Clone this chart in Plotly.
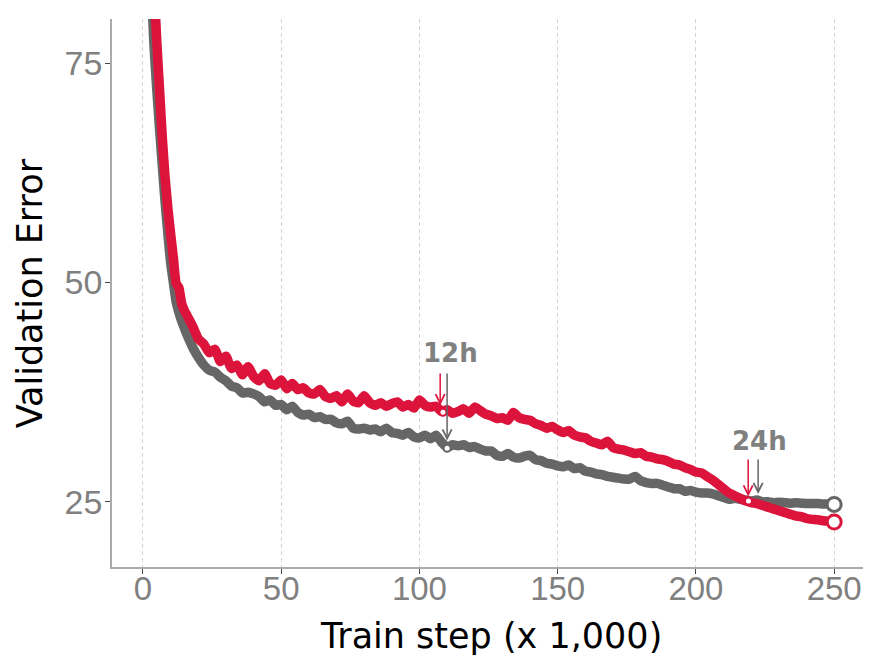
import plotly.graph_objects as go

# ---- data ----
steps = list(range(1, 16)) + list(range(16, 251, 2))

red_err = [120, 104, 92, 84, 77.5, 72, 66.5, 62, 58.5, 55.6, 52.8, 49.9, 49.4, 47.6, 46.8,
           46.2, 45.0, 43.6, 43.0, 42.0, 42.4, 41.0, 41.6, 40.2, 40.6,
           39.5, 40.4, 39.3, 38.8, 39.6, 38.5, 38.3, 38.9, 37.9, 38.5,
           37.8, 38.0, 37.4, 37.3, 37.8, 37.0, 36.8, 37.1, 36.4, 37.3,
           36.5, 36.3, 37.1, 36.3, 36.0, 36.3, 35.9, 36.2, 36.4, 35.8,
           36.1, 35.7, 36.6, 36.0, 35.8, 35.9, 35.3, 35.5, 35.1, 35.3,
           35.6, 35.1, 35.8, 35.4, 35.0, 34.8, 34.5, 34.6, 34.3, 35.2,
           34.6, 34.4, 34.3, 33.9, 33.7, 33.4, 33.6, 33.2, 32.9, 33.1,
           32.6, 32.4, 32.3, 31.9, 31.7, 31.5, 31.9, 31.2, 31.0, 30.9,
           30.7, 30.5, 30.6, 30.2, 30.1, 29.9, 29.8, 29.6, 29.3, 29.2,
           28.9, 28.7, 28.4, 28.3, 27.9, 27.5, 27.0, 26.5, 26.0, 25.7,
           25.4, 25.1, 24.9, 24.8, 24.6, 24.4, 24.2, 24.0, 23.8, 23.6,
           23.4, 23.3, 23.1, 23.0, 22.95, 22.85, 22.8, 22.7]

gray_err = [108, 94, 84, 77, 72, 67.5, 63.3, 59.2, 55.6, 52.3, 50.0, 47.8, 46.6, 45.6, 44.8,
            44.0, 42.6, 41.5, 40.6, 40.0, 39.8, 39.2, 38.8, 38.2, 38.0,
            37.4, 37.5, 37.3, 37.0, 36.4, 36.6, 36.0, 36.1, 35.5, 35.9,
            35.2, 34.9, 35.0, 34.6, 34.7, 34.4, 34.4, 34.0, 33.9, 34.2,
            33.4, 33.3, 33.4, 33.2, 33.3, 33.0, 33.4, 32.9, 32.8, 32.6,
            32.9, 32.4, 32.3, 32.6, 32.2, 32.6, 31.8, 31.2, 31.5, 31.4,
            31.5, 31.2, 31.3, 31.0, 30.8, 30.8, 30.3, 30.2, 30.5, 30.1,
            30.0, 30.2, 30.3, 29.8, 29.7, 29.4, 29.3, 29.1, 29.0, 29.2,
            28.8, 28.9, 28.5, 28.4, 28.2, 28.1, 27.9, 27.8, 27.7, 27.6,
            27.6, 27.9, 27.4, 27.2, 27.1, 27.1, 26.9, 26.7, 26.5, 26.5,
            26.2, 26.3, 26.1, 26.0, 26.0, 25.9, 25.7, 25.5, 25.3, 25.4,
            25.3, 25.2, 25.1, 25.2, 25.0, 25.0, 24.9, 24.95, 24.9, 24.85,
            24.9, 24.85, 24.8, 24.8, 24.8, 24.75, 24.75, 24.7]

# time checkpoints
red_event_x = [108.5, 219.0]
red_event_y = [35.2, 25.1]
gray_event_x = [110.0]
gray_event_y = [31.1]

event_labels = ["12h", "24h"]
label_x = [111.4, 222.9]
label_y = [42.0, 31.9]
arrow_red_x = [107.5, 218.9]
arrow_red_tip = [36.0, 25.6]
arrow_gray_x = [110.0, 222.5]
arrow_gray_tip = [32.0, 25.9]
arrow_tail = [39.8, 30.0]

x_ticks = [0, 50, 100, 150, 200, 250]
y_ticks = [25, 50, 75]

RED = "#DC143C"
GRAY = "#666666"
TXT = "#808080"

fig = go.Figure()
fig.add_trace(go.Scatter(x=steps, y=gray_err, mode="lines",
                         line=dict(color=GRAY, width=9.5, shape="spline", smoothing=0.5),
                         showlegend=False))
fig.add_trace(go.Scatter(x=steps, y=red_err, mode="lines",
                         line=dict(color=RED, width=9.5, shape="spline", smoothing=0.5),
                         showlegend=False))

# small event markers
fig.add_trace(go.Scatter(x=gray_event_x, y=gray_event_y, mode="markers",
                         marker=dict(size=7, color="white", line=dict(color=GRAY, width=2)),
                         showlegend=False))
fig.add_trace(go.Scatter(x=red_event_x, y=red_event_y, mode="markers",
                         marker=dict(size=7, color="white", line=dict(color=RED, width=2)),
                         showlegend=False))

# end markers
fig.add_trace(go.Scatter(x=[steps[-1]], y=[gray_err[-1]], mode="markers",
                         marker=dict(size=14, color="white", line=dict(color=GRAY, width=3)),
                         showlegend=False, cliponaxis=False))
fig.add_trace(go.Scatter(x=[steps[-1]], y=[red_err[-1]], mode="markers",
                         marker=dict(size=14, color="white", line=dict(color=RED, width=3)),
                         showlegend=False, cliponaxis=False))

for i, lab in enumerate(event_labels):
    fig.add_annotation(x=label_x[i], y=label_y[i], text="<b>%s</b>" % lab, showarrow=False,
                       font=dict(family="DejaVu Sans", size=26, color=TXT))
    fig.add_annotation(x=arrow_red_x[i], y=arrow_red_tip[i], ax=arrow_red_x[i], ay=arrow_tail[i],
                       axref="x", ayref="y", xref="x", yref="y", text="", showarrow=True,
                       arrowhead=5, arrowsize=1.2, arrowwidth=1.5, arrowcolor=RED)
    fig.add_annotation(x=arrow_gray_x[i], y=arrow_gray_tip[i], ax=arrow_gray_x[i], ay=arrow_tail[i],
                       axref="x", ayref="y", xref="x", yref="y", text="", showarrow=True,
                       arrowhead=5, arrowsize=1.2, arrowwidth=1.5, arrowcolor=GRAY)

# axis titles as paper annotations
fig.add_annotation(x=0.5, y=-0.125, xref="paper", yref="paper", text="Train step (x 1,000)",
                   showarrow=False, xanchor="center", yanchor="middle",
                   font=dict(family="DejaVu Sans", size=35, color="black"))
fig.add_annotation(x=-0.108, y=0.5, xref="paper", yref="paper", text="Validation Error",
                   showarrow=False, xanchor="center", yanchor="middle", textangle=-90,
                   font=dict(family="DejaVu Sans", size=35, color="black"))

# page body has an 8px margin, so the figure is sized to fit inside the window
fig.update_layout(
    width=863, height=649,
    margin=dict(l=104, r=2, t=11, b=89.5),
    paper_bgcolor="white", plot_bgcolor="white",
    font=dict(family="DejaVu Sans"),
    xaxis=dict(range=[-11.2, 262.6], tickvals=x_ticks, automargin=False,
               showgrid=True, gridcolor="#d4d4d4", griddash="4px,3px", gridwidth=1,
               zeroline=False, showline=True, linecolor="#aaaaaa", linewidth=1.5,
               ticks="outside", ticklen=5, tickwidth=1.2, tickcolor="#444444",
               ticklabelstandoff=-13,
               tickfont=dict(family="Liberation Sans", size=33, color=TXT)),
    yaxis=dict(range=[17.57, 80.05], tickvals=y_ticks, automargin=False,
               showgrid=False, zeroline=False, showline=True, linecolor="#aaaaaa", linewidth=1.5,
               ticks="outside", ticklen=5, tickwidth=1.2, tickcolor="#444444",
               ticklabelstandoff=-4,
               tickfont=dict(family="Liberation Sans", size=34, color=TXT)),
)

fig.write_html("out.html")
